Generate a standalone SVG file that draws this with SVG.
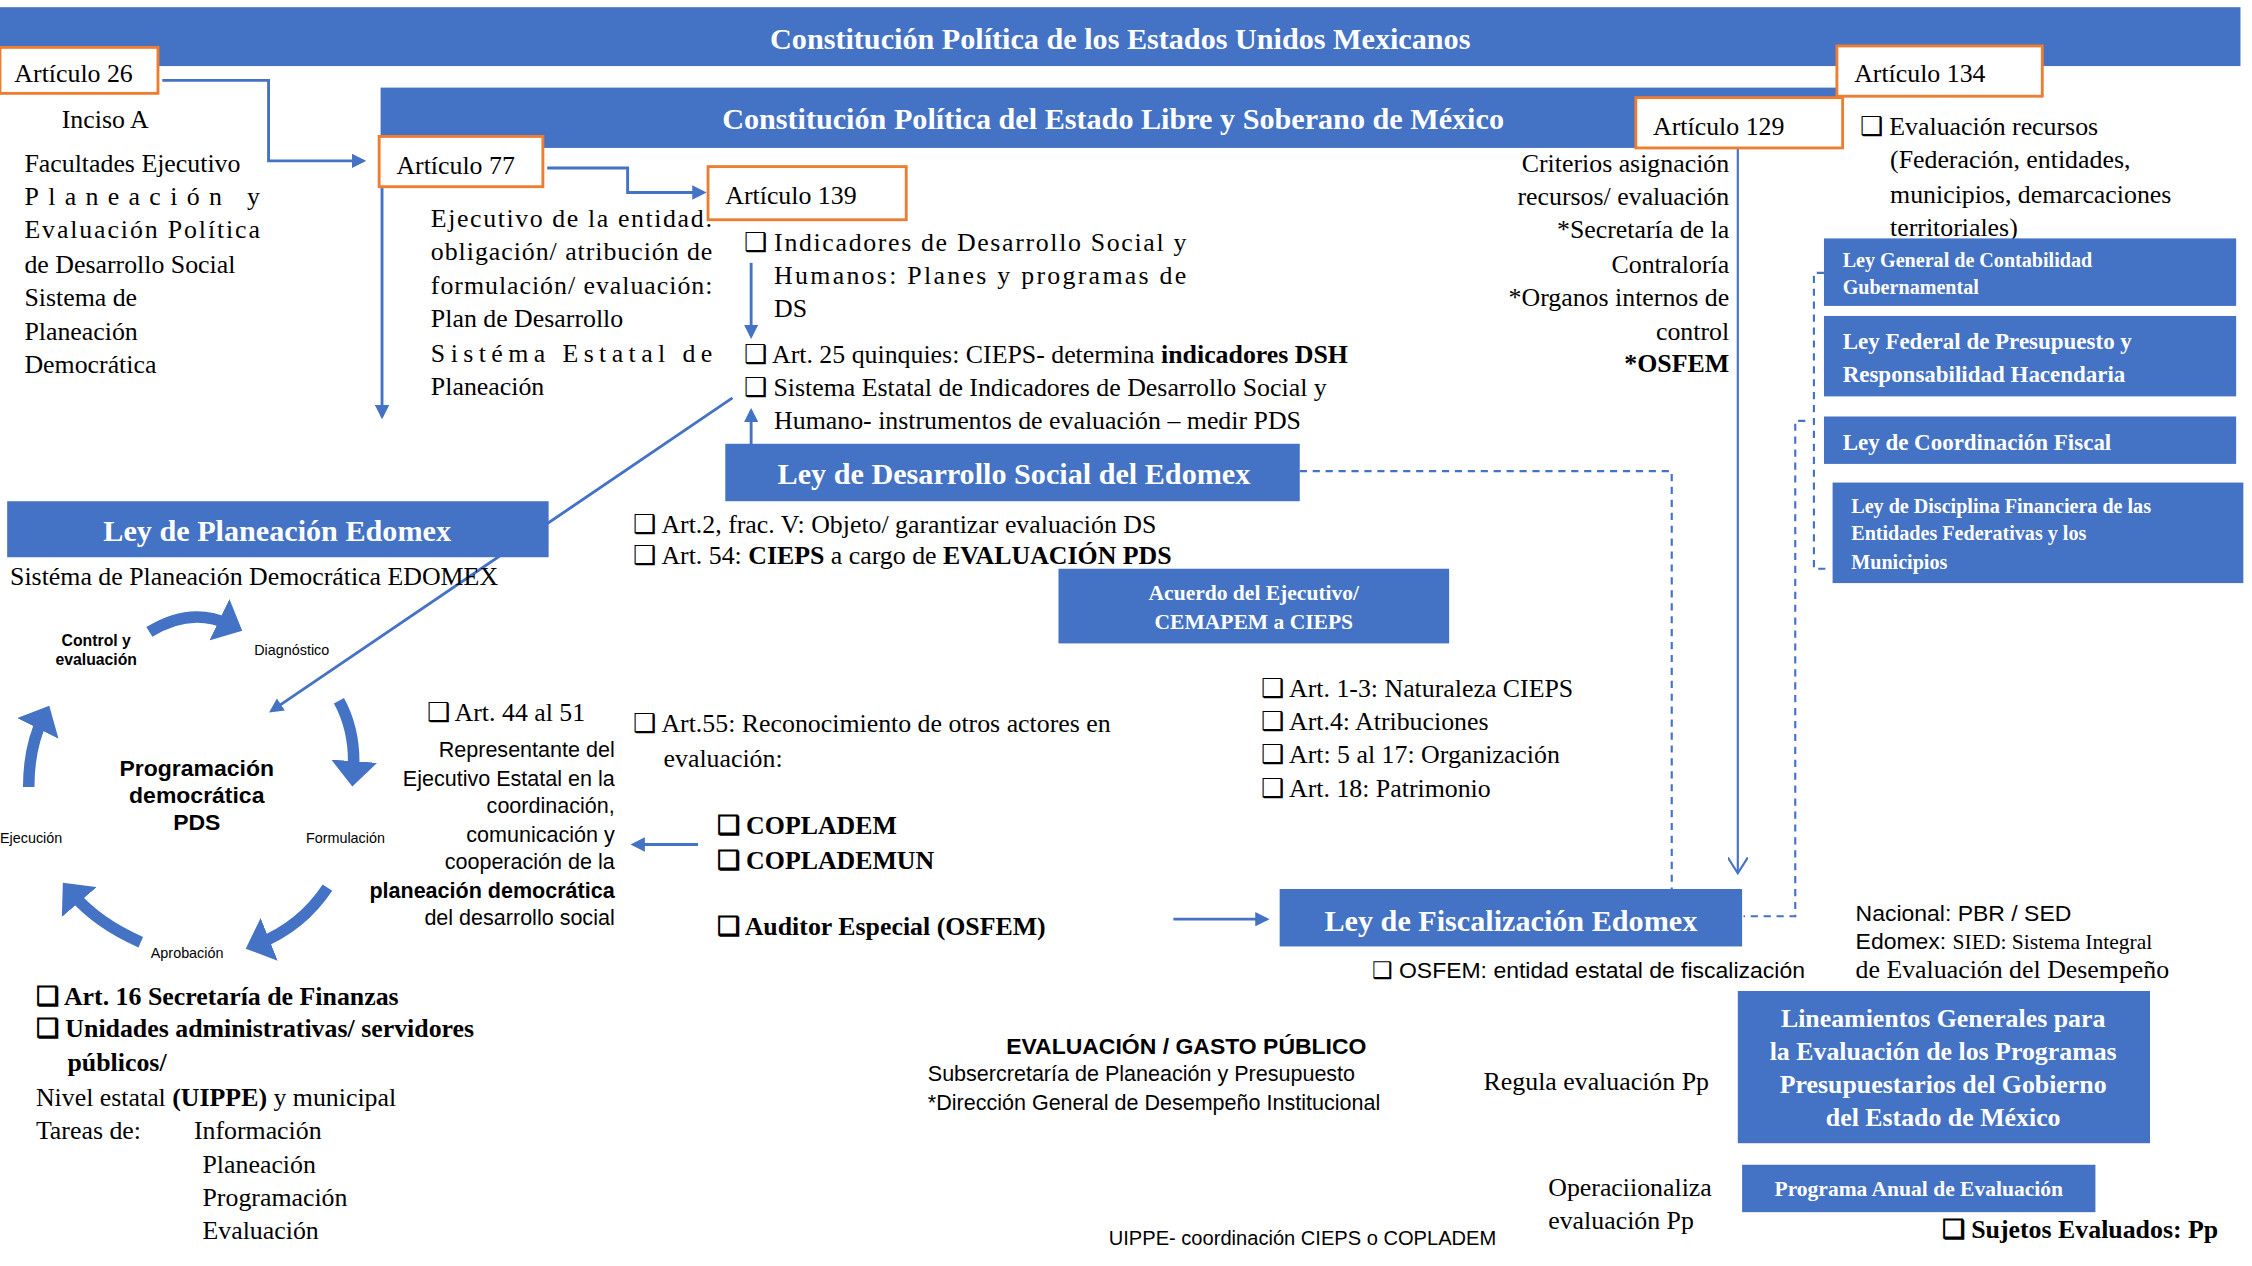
<svg xmlns="http://www.w3.org/2000/svg" width="2252" height="1266" viewBox="0 0 2252 1266">
<style>
.bn{fill:#4472C4}
.ob{fill:#fff;stroke:#ED7D31;stroke-width:2}
.s{font-family:"Liberation Serif",serif;font-size:18px;fill:#000}
.a{font-family:"Liberation Sans",sans-serif;fill:#000}
.wb{font-family:"Liberation Serif",serif;font-weight:bold;fill:#fff}
.ln{fill:none;stroke:#4472C4;stroke-width:2}
.dl{fill:none;stroke:#4472C4;stroke-width:1.5;stroke-dasharray:5,4}
.ca{fill:none;stroke:#4472C4;stroke-width:8}
b,.b{font-weight:bold}
</style>
<defs>
<marker id="ar" markerWidth="10" markerHeight="10" refX="8" refY="5" orient="auto" markerUnits="userSpaceOnUse"><path d="M0,0 L10,5 L0,10 z" fill="#4472C4"/></marker>
<marker id="av" markerWidth="12" markerHeight="14" refX="11" refY="7" orient="auto" markerUnits="userSpaceOnUse"><path d="M0,0 L11,7 L0,14" fill="none" stroke="#4472C4" stroke-width="1.5"/></marker>
<marker id="big" markerWidth="4" markerHeight="4" refX="1" refY="2" orient="auto" markerUnits="strokeWidth"><path d="M0,0 L2.2,2 L0,4 z" fill="#4472C4"/></marker>
</defs>
<rect width="2252" height="1266" fill="#fff"/>
<g transform="scale(1.4362)">
<g id="connectors">
<path class="ln" d="M113,56 H187 V112 H253" marker-end="url(#ar)"/>
<path class="ln" d="M266,130 V290" marker-end="url(#ar)"/>
<path class="ln" d="M381,117 H437 V134 H490" marker-end="url(#ar)"/>
<path class="ln" d="M523,183 V234" marker-end="url(#ar)"/>
<path class="ln" d="M523,310 V286" marker-end="url(#ar)"/>
<path class="ln" d="M510,277 L189,495" marker-end="url(#ar)"/>
<path class="ln" d="M486,588 H441" marker-end="url(#ar)"/>
<path class="ln" d="M817,640 H882" marker-end="url(#ar)"/>
<path class="ln" d="M1210,103 V608" marker-end="url(#av)" style="stroke-width:1.5"/>
<path class="dl" d="M905,328 H1164 V619"/>
<path class="dl" d="M1270,190 H1263 V396 H1272"/>
<path class="dl" d="M1257,293 H1250 V638 H1214"/>
<path class="ca" d="M104,440 Q133,422 160,435" marker-end="url(#big)"/>
<path class="ca" d="M236,488 Q248,510 246,538" marker-end="url(#big)"/>
<path class="ca" d="M228,618 Q210,645 180,657" marker-end="url(#big)"/>
<path class="ca" d="M98,656 Q68,643 50,622" marker-end="url(#big)"/>
<path class="ca" d="M20,548 Q20,520 30,500" marker-end="url(#big)"/>
</g>
<g id="cpeum"><rect class="bn" x="0" y="5" width="1560" height="41"/><text class="wb" x="780" y="34" font-size="21" text-anchor="middle">Constitución Política de los Estados Unidos Mexicanos</text></g>
<g id="cpelsm"><rect class="bn" x="265" y="61" width="1016" height="42"/><text class="wb" x="775" y="90" font-size="21" text-anchor="middle">Constitución Política del Estado Libre y Soberano de México</text></g>
<g id="art26"><rect class="ob" x="0" y="33" width="110" height="32"/><text class="s" x="10" y="57">Artículo 26</text></g>
<g id="art26text">
<text class="s" x="43" y="89" font-size="15">Inciso A</text>
<text class="s" x="17" y="120">Facultades Ejecutivo</text>
<text class="s" x="17" y="143" textLength="164" lengthAdjust="spacing">Planeación y</text>
<text class="s" x="17" y="166" textLength="164" lengthAdjust="spacing">Evaluación Política</text>
<text class="s" x="17" y="190">de Desarrollo Social</text>
<text class="s" x="17" y="213">Sistema de</text>
<text class="s" x="17" y="237">Planeación</text>
<text class="s" x="17" y="260">Democrática</text>
</g>
<g id="art77"><rect class="ob" x="264" y="95" width="114" height="35"/><text class="s" x="276" y="121">Artículo 77</text>
<text class="s" x="300" y="158" textLength="196" lengthAdjust="spacing">Ejecutivo de la entidad:</text>
<text class="s" x="300" y="181" textLength="196" lengthAdjust="spacing">obligación/ atribución de</text>
<text class="s" x="300" y="205" textLength="196" lengthAdjust="spacing">formulación/ evaluación:</text>
<text class="s" x="300" y="228">Plan de Desarrollo</text>
<text class="s" x="300" y="252" textLength="196" lengthAdjust="spacing">Sistéma Estatal de</text>
<text class="s" x="300" y="275">Planeación</text>
</g>
<g id="art139"><rect class="ob" x="493" y="116" width="138" height="37"/><text class="s" x="505" y="142">Artículo 139</text>
<text class="s" x="518" y="175">❑</text><text class="s" x="539" y="175" textLength="287" lengthAdjust="spacing">Indicadores de Desarrollo Social y</text>
<text class="s" x="539" y="198" textLength="287" lengthAdjust="spacing">Humanos: Planes y programas de</text>
<text class="s" x="539" y="221">DS</text>
<text class="s" x="518" y="253">❑ Art. 25 quinquies: CIEPS- determina <tspan class="b">indicadores  DSH</tspan></text>
<text class="s" x="518" y="276">❑ Sistema Estatal de Indicadores  de Desarrollo Social y</text>
<text class="s" x="539" y="299">Humano- instrumentos de evaluación – medir PDS</text>
</g>
<g id="art129"><rect class="ob" x="1139" y="68" width="144" height="35"/><text class="s" x="1151" y="94">Artículo 129</text>
<g text-anchor="end"><text class="s" x="1204" y="120">Criterios asignación</text><text class="s" x="1204" y="143">recursos/ evaluación</text><text class="s" x="1204" y="166">*Secretaría de la</text><text class="s" x="1204" y="190">Contraloría</text><text class="s" x="1204" y="213">*Organos internos de</text><text class="s" x="1204" y="237">control</text><text class="s b" x="1204" y="259">*OSFEM</text></g>
</g>
<g id="art134"><rect class="ob" x="1279" y="32" width="143" height="35"/><text class="s" x="1291" y="57">Artículo 134</text>
<text class="s" x="1295" y="94">❑ Evaluación recursos</text><text class="s" x="1316" y="117">(Federación, entidades,</text><text class="s" x="1316" y="141">municipios, demarcaciones</text><text class="s" x="1316" y="164">territoriales)</text>
</g>
<g id="lgcg"><rect class="bn" x="1270" y="166" width="287" height="47"/><text class="wb" x="1283" y="186" font-size="14">Ley General de Contabilidad</text><text class="wb" x="1283" y="205" font-size="14">Gubernamental</text></g>
<g id="lfprh"><rect class="bn" x="1270" y="220" width="287" height="56"/><text class="wb" x="1283" y="243" font-size="16">Ley Federal de Presupuesto y</text><text class="wb" x="1283" y="266" font-size="16">Responsabilidad Hacendaria</text></g>
<g id="lcf"><rect class="bn" x="1270" y="290" width="287" height="33"/><text class="wb" x="1283" y="313" font-size="16">Ley de Coordinación Fiscal</text></g>
<g id="ldf"><rect class="bn" x="1276" y="336" width="286" height="70"/><text class="wb" x="1289" y="357" font-size="14">Ley de Disciplina Financiera de las</text><text class="wb" x="1289" y="376" font-size="14">Entidades Federativas y los</text><text class="wb" x="1289" y="396" font-size="14">Municipios</text></g>
<g id="lds"><rect class="bn" x="505" y="309" width="400" height="40"/><text class="wb" x="706" y="337" font-size="21" text-anchor="middle">Ley de Desarrollo Social del Edomex</text>
<text class="s" x="441" y="371">❑ Art.2, frac. V: Objeto/ garantizar evaluación DS</text>
<text class="s" x="441" y="393">❑ Art. 54: <tspan class="b">CIEPS</tspan> a cargo de <tspan class="b">EVALUACIÓN PDS</tspan></text>
</g>
<g id="acuerdo"><rect class="bn" x="737" y="396" width="272" height="52"/><text class="wb" x="873" y="418" font-size="15" text-anchor="middle">Acuerdo del Ejecutivo/</text><text class="wb" x="873" y="438" font-size="15" text-anchor="middle">CEMAPEM  a CIEPS</text>
<text class="s" x="878" y="485">❑ Art. 1-3: Naturaleza CIEPS</text><text class="s" x="878" y="508">❑ Art.4: Atribuciones</text><text class="s" x="878" y="531">❑ Art: 5 al 17: Organización</text><text class="s" x="878" y="555">❑ Art. 18: Patrimonio</text>
</g>
<g id="lpe"><rect class="bn" x="5" y="349" width="377" height="39"/><text class="wb" x="193" y="377" font-size="21" text-anchor="middle">Ley de Planeación Edomex</text>
<text class="s" x="7" y="407">Sistéma de Planeación Democrática EDOMEX</text>
</g>
<g id="ciclo">
<text class="a b" x="67" y="450" font-size="11" text-anchor="middle">Control y</text><text class="a b" x="67" y="463" font-size="11" text-anchor="middle">evaluación</text>
<text class="a" x="177" y="456" font-size="10">Diagnóstico</text>
<text class="a b" x="137" y="540" font-size="16" text-anchor="middle">Programación</text><text class="a b" x="137" y="559" font-size="16" text-anchor="middle">democrática</text><text class="a b" x="137" y="578" font-size="16" text-anchor="middle">PDS</text>
<text class="a" x="0" y="587" font-size="10">Ejecución</text>
<text class="a" x="213" y="587" font-size="10">Formulación</text>
<text class="a" x="105" y="667" font-size="10">Aprobación</text>
</g>
<g id="art44">
<text class="s" x="297" y="502">❑ Art. 44 al 51</text>
<g text-anchor="end" font-size="15"><text class="a" x="428" y="527">Representante del</text><text class="a" x="428" y="547">Ejecutivo Estatal en la</text><text class="a" x="428" y="566">coordinación,</text><text class="a" x="428" y="586">comunicación y</text><text class="a" x="428" y="605">cooperación de la</text><text class="a b" x="428" y="625">planeación democrática</text><text class="a" x="428" y="644">del desarrollo social</text></g>
</g>
<g id="art55">
<text class="s" x="441" y="510">❑ Art.55: Reconocimiento de otros actores en</text><text class="s" x="462" y="534">evaluación:</text>
<text class="s b" x="499" y="581">❑ COPLADEM</text><text class="s b" x="499" y="605">❑ COPLADEMUN</text><text class="s b" x="499" y="651">❑ Auditor Especial (OSFEM)</text>
</g>
<g id="lfe"><rect class="bn" x="891" y="619" width="322" height="40"/><text class="wb" x="1052" y="648" font-size="21" text-anchor="middle">Ley de Fiscalización Edomex</text>
<text class="a" x="955" y="681" font-size="16">❑ OSFEM: entidad estatal de fiscalización</text>
</g>
<g id="sed">
<text class="a" x="1292" y="641" font-size="16">Nacional: PBR /  SED</text>
<text class="a" x="1292" y="661" font-size="16">Edomex:  <tspan font-family="Liberation Serif,serif" font-size="15">SIED: Sistema Integral</tspan></text>
<text class="s" x="1292" y="681" font-size="15">de Evaluación del Desempeño</text>
</g>
<g id="art16">
<text class="s b" x="25" y="700">❑ Art. 16 Secretaría de Finanzas</text>
<text class="s b" x="25" y="722">❑ Unidades administrativas/ servidores</text>
<text class="s b" x="47" y="746">públicos/</text>
<text class="s" x="25" y="770">Nivel estatal <tspan class="b">(UIPPE)</tspan> y municipal</text>
<text class="s" x="25" y="793">Tareas de:</text><text class="s" x="135" y="793">Información</text>
<text class="s" x="141" y="817">Planeación</text><text class="s" x="141" y="840">Programación</text><text class="s" x="141" y="863">Evaluación</text>
</g>
<g id="gasto">
<text class="a b" x="826" y="734" font-size="16" text-anchor="middle">EVALUACIÓN / GASTO PÚBLICO</text>
<text class="a" x="646" y="753" font-size="15">Subsercretaría de Planeación y Presupuesto</text>
<text class="a" x="646" y="773" font-size="15">*Dirección General de Desempeño Institucional</text>
<text class="a" x="772" y="867" font-size="14">UIPPE- coordinación CIEPS o COPLADEM</text>
</g>
<g id="lineamientos"><rect class="bn" x="1210" y="690" width="287" height="106"/>
<g text-anchor="middle" font-size="18"><text class="wb" x="1353" y="715">Lineamientos Generales para</text><text class="wb" x="1353" y="738">la Evaluación de los Programas</text><text class="wb" x="1353" y="761">Presupuestarios del Gobierno</text><text class="wb" x="1353" y="784">del Estado de México</text></g>
<text class="s" x="1033" y="759">Regula evaluación Pp</text>
</g>
<g id="pae"><rect class="bn" x="1213" y="811" width="246" height="33"/><text class="wb" x="1336" y="833" font-size="15" text-anchor="middle">Programa Anual de Evaluación</text>
<text class="s" x="1078" y="833">Operaciionaliza</text><text class="s" x="1078" y="856">evaluación Pp</text>
<text class="s b" x="1352" y="862">❑ Sujetos Evaluados: Pp</text>
</g>
</g>
</svg>
